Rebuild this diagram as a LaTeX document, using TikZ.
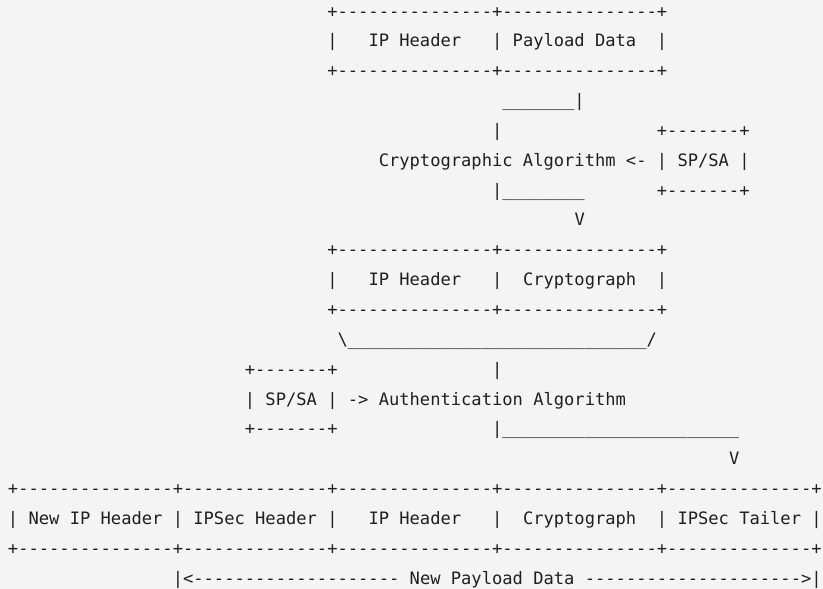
\documentclass[tikz,border=0pt]{standalone}
\usepackage{fontspec}
\setmonofont{DejaVu Sans Mono}
\definecolor{paper}{HTML}{F4F4F4}
\definecolor{ink}{HTML}{1F1F1F}
\tikzset{
  ascii/.style={anchor=base west, inner sep=0pt, outer sep=0pt, text=ink,
    font=\ttfamily\fontsize{17.108pt}{20pt}\selectfont},
}
% a run of n underscores
\newcommand\unders[1]{\foreach \k in {1,...,#1}{\_}}
\begin{document}
\begin{tikzpicture}
\fill[paper] (0,0) rectangle (823pt,-589pt);
\useasboundingbox (0,0) rectangle (823pt,-589pt);
% one unit in x is one character cell, one unit in y is one text line
\begin{scope}[shift={(8pt,-17pt)}, x=10.3pt, y=-29.85pt]
  % original packet
  \node[ascii] (pktTop)    at (31,0) {+---------------+---------------+};
  \node[ascii] (pktL)      at (31,1) {|};
  \node[ascii] (pktIP)     at (35,1) {IP Header};
  \node[ascii] (pktM)      at (47,1) {|};
  \node[ascii] (pktData)   at (49,1) {Payload Data};
  \node[ascii] (pktR)      at (63,1) {|};
  \node[ascii] (pktBot)    at (31,2) {+---------------+---------------+};
  % encryption step
  \node[ascii] (encIn)     at (48,3) {\unders{7}|};
  \node[ascii] (encBar)    at (47,4) {|};
  \node[ascii] (spaTop)    at (63,4) {+-------+};
  \node[ascii] (encAlg)    at (36,5) {Cryptographic Algorithm <-};
  \node[ascii] (spaBox)    at (63,5) {| SP/SA |};
  \node[ascii] (encOut)    at (47,6) {|\unders{8}};
  \node[ascii] (spaBot)    at (63,6) {+-------+};
  \node[ascii] (encArrow)  at (55,7) {V};
  % encrypted packet
  \node[ascii] (cryTop)    at (31,8) {+---------------+---------------+};
  \node[ascii] (cryL)      at (31,9) {|};
  \node[ascii] (cryIP)     at (35,9) {IP Header};
  \node[ascii] (cryM)      at (47,9) {|};
  \node[ascii] (cryData)   at (50,9) {Cryptograph};
  \node[ascii] (cryR)      at (63,9) {|};
  \node[ascii] (cryBot)    at (31,10) {+---------------+---------------+};
  % authentication step
  \node[ascii] (authIn)    at (32,11) {\textbackslash\unders{29}/};
  \node[ascii] (spbTop)    at (23,12) {+-------+};
  \node[ascii] (authBar)   at (47,12) {|};
  \node[ascii] (authAlg)   at (23,13) {| SP/SA | -> Authentication Algorithm};
  \node[ascii] (spbBot)    at (23,14) {+-------+};
  \node[ascii] (authOut)   at (47,14) {|\unders{23}};
  \node[ascii] (authArrow) at (70,15) {V};
  % resulting IPSec packet
  \node[ascii] (outTop)    at (0,16) {+---------------+--------------+---------------+---------------+--------------+};
  \node[ascii] (outC0)     at (0,17) {|};
  \node[ascii] (outNewIP)  at (2,17) {New IP Header};
  \node[ascii] (outC1)     at (16,17) {|};
  \node[ascii] (outSecH)   at (18,17) {IPSec Header};
  \node[ascii] (outC2)     at (31,17) {|};
  \node[ascii] (outIP)     at (35,17) {IP Header};
  \node[ascii] (outC3)     at (47,17) {|};
  \node[ascii] (outCry)    at (50,17) {Cryptograph};
  \node[ascii] (outC4)     at (63,17) {|};
  \node[ascii] (outTail)   at (65,17) {IPSec Tailer};
  \node[ascii] (outC5)     at (78,17) {|};
  \node[ascii] (outBot)    at (0,18) {+---------------+--------------+---------------+---------------+--------------+};
  % span of the new payload
  \node[ascii] (spanL)     at (16,19) {|<--------------------};
  \node[ascii] (spanText)  at (39,19) {New Payload Data};
  \node[ascii] (spanR)     at (56,19) {--------------------->|};
\end{scope}
\end{tikzpicture}
\end{document}
